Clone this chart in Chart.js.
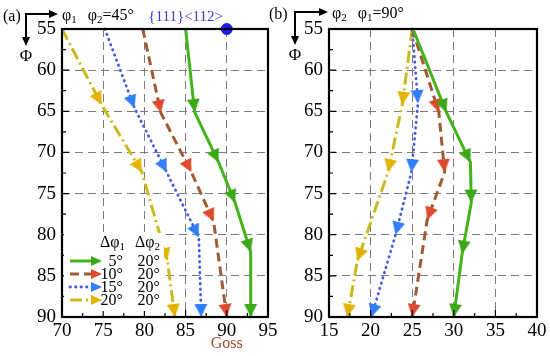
<!DOCTYPE html>
<html>
<head>
<meta charset="utf-8">
<script src="https://cdn.jsdelivr.net/npm/chart.js@4.4.1/dist/chart.umd.min.js"></script>
<style>
html, body { margin: 0; padding: 0; background: #fff; }
#wrap { position: relative; width: 550px; height: 356px; overflow: hidden; }
#chartA, #chartB { position: absolute; top: 0; }
#chartA { left: 0; }
#chartB { left: 275px; }
</style>
</head>
<body>
<div id="wrap">
  <canvas id="chartA" width="290" height="356"></canvas>
  <canvas id="chartB" width="275" height="356"></canvas>
</div>
<script>
// values (arrow tips = data points)
const dPhi1 = ['5°', '10°', '15°', '20°'];
const dPhi2 = ['20°', '20°', '20°', '20°'];

// (a) phi1 vs Phi, phi2 = 45°
const aPhi5 = [55, 65.1, 71.2, 76.1, 82.1, 90];
const aX5 = [85, 86.1, 89, 91, 92.9, 92.9];
const aPhi10 = [55, 65.2, 72.4, 78.4, 90];
const aX10 = [79.8, 82, 85.7, 88.4, 90];
const aPhi15 = [55, 64.6, 72.4, 80.3, 90];
const aX15 = [75.2, 78.8, 82.7, 86.6, 86.9];
const aPhi20 = [55, 64.2, 72.4, 83.2, 90];
const aX20 = [70, 74.8, 79.7, 82.8, 83.7];

// (b) phi2 vs Phi, phi1 = 90°
const bPhi5 = [55, 65.1, 71.2, 76.1, 82.3, 90];
const bX5 = [25.1, 29.1, 32, 32.1, 31, 30];
const bPhi10 = [55, 65.1, 72.4, 78.2, 90];
const bX10 = [25, 28.2, 28.9, 26.8, 25];
const bPhi15 = [55, 64, 72.4, 80, 90];
const bX15 = [25, 25.7, 24.9, 23, 20.1];
const bPhi20 = [55, 64.2, 72.4, 83.2, 90];
const bX20 = [25, 23.8, 22.1, 18.4, 17.2];

const colors = {
  line: ['#46b31c', '#a05a36', '#4a5ae6', '#c9bb1e'],
  head: ['#3ba81a', '#de4a2e', '#2f7fff', '#e2b300']
};
const dashes = [[], [9, 5], [0.5, 5], [12, 4, 2, 4]];
const widths = [3, 3, 2.8, 3];
const serif = 'Liberation Serif';

function arrowImg(color) {
  const c = document.createElement('canvas');
  c.width = 28; c.height = 28;
  const g = c.getContext('2d');
  g.fillStyle = color;
  g.beginPath();
  g.moveTo(14, 14);
  g.lineTo(7.5, 27);
  g.lineTo(20.5, 27);
  g.closePath();
  g.fill();
  return c;
}
const heads = colors.head.map(arrowImg);

function arrowRot(ctx) {
  const i = ctx.dataIndex, d = ctx.dataset.data;
  if (!d[i - 1]) return 180;
  const xs = ctx.chart.scales.x, ys = ctx.chart.scales.y;
  const dx = xs.getPixelForValue(d[i].x) - xs.getPixelForValue(d[i - 1].x);
  const dy = ys.getPixelForValue(d[i].y) - ys.getPixelForValue(d[i - 1].y);
  return Math.atan2(dy, dx) * 180 / Math.PI + 90;
}

function series(xs, ys, k) {
  return {
    data: xs.map((x, i) => ({ x: x, y: ys[i] })),
    borderColor: colors.line[k],
    borderWidth: widths[k],
    borderDash: dashes[k],
    borderCapStyle: k === 2 ? 'round' : 'butt',
    pointStyle: heads[k],
    pointRadius: c => c.dataIndex === 0 ? 0 : 5,
    pointRotation: arrowRot,
    showLine: true,
    fill: false,
    tension: 0,
    clip: false
  };
}

function gridColor(c) {
  const v = c.tick ? c.tick.value : null;
  return (v === c.scale.min || v === c.scale.max) ? 'rgba(0,0,0,0)' : '#7c7c7c';
}

function makeOptions(xMin, xMax, yW, padR) {
  return {
    responsive: false,
    animation: false,
    events: [],
    layout: { padding: { left: 0, right: padR, top: 29, bottom: 0 } },
    plugins: { legend: { display: false }, tooltip: { enabled: false } },
    scales: {
      x: {
        type: 'linear', min: xMin, max: xMax,
        afterFit: s => { s.height = 39; s.paddingLeft = 0; s.paddingRight = 0; },
        ticks: { stepSize: 5, color: '#000', padding: 3, maxRotation: 0, font: { family: serif, size: 19 } },
        grid: { color: gridColor, lineWidth: 1, drawTicks: false },
        border: { display: false, dash: [8, 5] }
      },
      y: {
        type: 'linear', reverse: true, min: 55, max: 90,
        afterFit: s => { s.width = yW; s.paddingTop = 0; s.paddingBottom = 0; },
        ticks: { stepSize: 5, color: '#000', padding: 6, font: { family: serif, size: 19 } },
        grid: { color: gridColor, lineWidth: 1, drawTicks: false },
        border: { display: false, dash: [8, 5] }
      }
    }
  };
}

function frameAndTicks(chart) {
  const ctx = chart.ctx, a = chart.chartArea;
  const xs = chart.scales.x, ys = chart.scales.y;
  ctx.save();
  ctx.strokeStyle = '#000';
  ctx.lineWidth = 1.2;
  ctx.beginPath();
  for (let v = xs.min; v <= xs.max; v += 2.5) {
    const p = xs.getPixelForValue(v);
    const len = (v % 5 === 0) ? 7 : 4;
    ctx.moveTo(p, a.bottom); ctx.lineTo(p, a.bottom - len);
  }
  for (let v = ys.min; v <= ys.max; v += 2.5) {
    const p = ys.getPixelForValue(v);
    const len = (v % 5 === 0) ? 7 : 4;
    ctx.moveTo(a.left, p); ctx.lineTo(a.left + len, p);
  }
  ctx.stroke();
  ctx.lineWidth = 2.2;
  ctx.strokeRect(a.left, a.top, a.right - a.left, a.bottom - a.top);
  ctx.restore();
}

function arrowLine(ctx, x1, y1, x2, y2) {
  ctx.beginPath(); ctx.moveTo(x1, y1); ctx.lineTo(x2, y2); ctx.stroke();
  const ang = Math.atan2(y2 - y1, x2 - x1);
  ctx.save();
  ctx.translate(x2, y2); ctx.rotate(ang);
  ctx.beginPath(); ctx.moveTo(2, 0); ctx.lineTo(-7, -4); ctx.lineTo(-7, 4); ctx.closePath(); ctx.fill();
  ctx.restore();
}

function subText(ctx, base, sub, x, y, size) {
  ctx.font = size + 'px "' + serif + '"';
  ctx.fillText(base, x, y);
  const w = ctx.measureText(base).width;
  ctx.font = Math.round(size * 0.7) + 'px "' + serif + '"';
  ctx.fillText(sub, x + w, y + 4);
  return x + w + ctx.measureText(sub).width;
}

// axis-direction glyph in the top-left corner of a panel
function corner(ctx, ox, oy, hx, vy, axisSub, rest) {
  ctx.save();
  ctx.fillStyle = '#000'; ctx.strokeStyle = '#000'; ctx.lineWidth = 2;
  ctx.textBaseline = 'middle';
  arrowLine(ctx, ox, oy, hx, oy);
  arrowLine(ctx, ox, oy - 1, ox, vy);
  ctx.font = '17px "' + serif + '"';
  ctx.textAlign = 'center';
  ctx.fillText('Φ', ox, vy + 13);
  ctx.textAlign = 'left';
  const x = subText(ctx, 'φ', axisSub, hx + 6, oy + 2, 16);
  ctx.fillStyle = '#000';
  const x2 = subText(ctx, 'φ', rest[0], x + 11, oy + 2, 16);
  ctx.font = '16px "' + serif + '"';
  ctx.fillText(rest[1], x2, oy + 2);
  ctx.restore();
}

const decoA = {
  id: 'decoA',
  afterDraw(chart) {
    frameAndTicks(chart);
    const ctx = chart.ctx, xs = chart.scales.x, a = chart.chartArea;
    ctx.save();
    ctx.fillStyle = '#000';
    ctx.textBaseline = 'middle';
    ctx.font = '16px "' + serif + '"';
    ctx.fillText('(a)', 3, 17);
    ctx.fillText('(b)', 269, 15);
    ctx.restore();
    corner(ctx, 26, 14, 56, 44, '1', ['2', '=45°']);
    ctx.save();
    ctx.textBaseline = 'middle';
    // {111}<112> and Goss markers
    ctx.fillStyle = '#3c3cd0';
    ctx.font = '15px "' + serif + '"';
    ctx.textAlign = 'right';
    ctx.fillText('{111}<112>', 223, 17);
    ctx.fillStyle = '#a4482c';
    ctx.textAlign = 'center';
    ctx.font = '16px "' + serif + '"';
    ctx.fillText('Goss', xs.getPixelForValue(90), 344);
    ctx.restore();
    // legend
    ctx.save();
    ctx.fillStyle = '#fff';
    ctx.fillRect(a.left + 2, 233, 100, 78);
    ctx.fillStyle = '#000';
    ctx.textBaseline = 'middle';
    ctx.textAlign = 'left';
    subText(ctx, 'Δφ', '1', 100, 243, 16);
    ctx.fillStyle = '#000';
    subText(ctx, 'Δφ', '2', 135, 243, 16);
    const rows = [261, 274, 287, 300];
    rows.forEach((y, k) => {
      ctx.strokeStyle = colors.line[k];
      ctx.lineWidth = widths[k];
      ctx.lineCap = k === 2 ? 'round' : 'butt';
      ctx.setLineDash(dashes[k]);
      ctx.beginPath(); ctx.moveTo(70, y); ctx.lineTo(93, y); ctx.stroke();
      ctx.setLineDash([]);
      ctx.fillStyle = colors.head[k];
      ctx.beginPath(); ctx.moveTo(102, y); ctx.lineTo(91, y - 5); ctx.lineTo(91, y + 5); ctx.closePath(); ctx.fill();
      ctx.fillStyle = '#000';
      ctx.font = '16px "' + serif + '"';
      ctx.textAlign = 'right';
      ctx.fillText(dPhi1[k], 123, y + 1);
      ctx.fillText(dPhi2[k], 160, y + 1);
    });
    ctx.restore();
  }
};

const decoB = {
  id: 'decoB',
  afterDraw(chart) {
    frameAndTicks(chart);
    corner(chart.ctx, 20, 12, 51, 43, '2', ['1', '=90°']);
  }
};

new Chart(document.getElementById('chartA'), {
  type: 'scatter',
  data: {
    datasets: [
      series(aX5, aPhi5, 0),
      series(aX10, aPhi10, 1),
      series(aX15, aPhi15, 2),
      series(aX20, aPhi20, 3),
      {
        data: [{ x: 90, y: 55 }],
        pointStyle: 'circle', pointRadius: 5.5,
        pointBackgroundColor: '#1c1cf0', pointBorderColor: '#1c1cf0',
        showLine: false, clip: false
      }
    ]
  },
  options: makeOptions(70, 95, 62, 22),
  plugins: [decoA]
});

new Chart(document.getElementById('chartB'), {
  type: 'scatter',
  data: {
    datasets: [
      series(bX5, bPhi5, 0),
      series(bX10, bPhi10, 1),
      series(bX15, bPhi15, 2),
      series(bX20, bPhi20, 3)
    ]
  },
  options: makeOptions(15, 40, 54, 13),
  plugins: [decoB]
});
</script>
</body>
</html>
